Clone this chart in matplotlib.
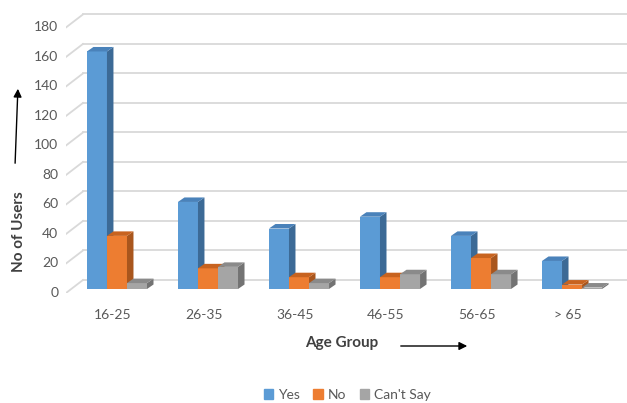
import numpy as np
import matplotlib.pyplot as plt
from matplotlib.patches import Patch

plt.rcParams['font.family'] = ['Lato', 'DejaVu Sans']

# datos de la encuesta por grupo de edad
grupos = ['16-25', '26-35', '36-45', '46-55', '56-65', '> 65']
series = ['Yes', 'No', "Can't Say"]
si = [161, 59, 41, 49, 36, 19]
no = [36, 14, 8, 8, 21, 3]
no_sabe = [4, 15, 4, 10, 10, 1]
valores = [si, no, no_sabe]

# colores: frente, lateral, tapa
colores = [('#5b9bd5', '#3c6a96', '#4a82ba'),
           ('#ed7d31', '#a9561d', '#c8631f'),
           ('#a5a5a5', '#737373', '#8a8a8a')]

fig = plt.figure(figsize=(6.27, 4.03), dpi=100)
ax = fig.add_axes([66/627, 110/403, 561/627, 288/403])
ax.set_xlim(-0.516, 5.648)
ax.set_ylim(-2.71, 192.5)
ax.axis('off')

# profundidad del "3D"
prof_x = 0.0714
prof_y = 3.05
pared_x = -0.3297
pared_y = 6.10
frente_y = -2.71

# lineas de la cuadricula en la pared del fondo
for v in range(0, 181, 20):
    ax.plot([-0.516, pared_x], [v + frente_y, v + pared_y], color='#d9d9d9', lw=1.3, zorder=1)
    ax.plot([pared_x, 5.648], [v + pared_y, v + pared_y], color='#d9d9d9', lw=1.3, zorder=1)
    ax.text(-0.60, v + frente_y, str(v), ha='right', va='center', fontsize=10, color='#595959')

x = np.arange(len(grupos))
ancho = 0.22
desplaz = [-0.176, 0.044, 0.264]

for i in range(len(grupos)):
    for s in range(3):
        v = valores[s][i]
        xc = x[i] + desplaz[s]
        izq, der = xc - ancho/2, xc + ancho/2
        frente, lado, tapa = colores[s]
        z = 3 + i*3 + s
        ax.bar(xc, v, width=ancho, color=frente, zorder=z)
        ax.fill([der, der + prof_x, der + prof_x, der],
                [0, prof_y, v + prof_y, v], color=lado, lw=0, zorder=z)
        ax.fill([izq, der, der + prof_x, izq + prof_x],
                [v, v, v + prof_y, v + prof_y], color=tapa, lw=0, zorder=z)

# etiquetas de categorias
for i, g in enumerate(grupos):
    ax.text(x[i], -17.5, g, ha='center', va='center', fontsize=10, color='#595959', clip_on=False)

# titulos de ejes con flechas
fig.text(342/627, 1 - 343/403, 'Age Group', ha='center', va='center',
         fontsize=11, fontweight='bold', color='#404040')
fig.text(19/627, 1 - 232/403, 'No of Users', ha='center', va='center', rotation=90,
         fontsize=11, fontweight='bold', color='#404040')
ax.annotate('', xy=(470/627, 1 - 346/403), xytext=(398/627, 1 - 346/403),
            xycoords='figure fraction', textcoords='figure fraction',
            arrowprops=dict(arrowstyle='-|>', color='black', lw=1, mutation_scale=12))
ax.annotate('', xy=(18/627, 1 - 86/403), xytext=(15/627, 1 - 166/403),
            xycoords='figure fraction', textcoords='figure fraction',
            arrowprops=dict(arrowstyle='-|>', color='black', lw=1, mutation_scale=12))

# leyenda
handles = [Patch(color=c[0]) for c in colores]
fig.legend(handles, series, loc='center', bbox_to_anchor=(347/627, 1 - 395/403), ncol=3,
           frameon=False, fontsize=10, handlelength=0.7, handleheight=0.7,
           handletextpad=0.3, columnspacing=1.0, labelcolor='#595959')

fig.savefig('out.png', dpi=100)
